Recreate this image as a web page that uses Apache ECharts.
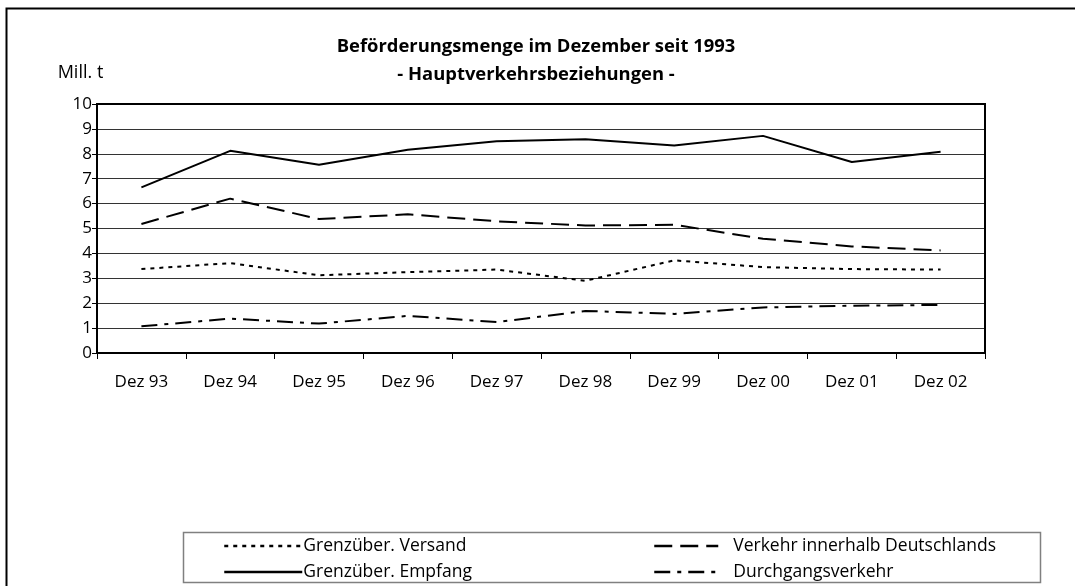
<!DOCTYPE html>
<html>
<head>
<meta charset="utf-8">
<script src="https://cdn.jsdelivr.net/npm/echarts@6/dist/echarts.min.js"></script>
<style>
  html, body { margin: 0; padding: 0; background: #fff; }
  #main { width: 1075px; height: 586px; }
</style>
</head>
<body>
<div id="main"></div>
<script>
var categories = ['Dez 93', 'Dez 94', 'Dez 95', 'Dez 96', 'Dez 97', 'Dez 98', 'Dez 99', 'Dez 00', 'Dez 01', 'Dez 02'];

var versand   = [3.37, 3.61, 3.12, 3.25, 3.35, 2.90, 3.72, 3.45, 3.37, 3.35];
var empfang   = [6.65, 8.12, 7.56, 8.16, 8.50, 8.58, 8.33, 8.72, 7.67, 8.08];
var innerhalb = [5.18, 6.20, 5.38, 5.57, 5.29, 5.12, 5.15, 4.59, 4.28, 4.12];
var durchgang = [1.07, 1.38, 1.18, 1.49, 1.24, 1.69, 1.57, 1.83, 1.90, 1.93];

var font = 'Open Sans';

function line(name, data, dash) {
  return {
    name: name,
    type: 'line',
    data: data,
    symbol: 'none',
    color: '#000',
    animation: false,
    lineStyle: { color: '#000', width: 2, type: dash },
    z: 5
  };
}

var legendBase = {
  orient: 'vertical',
  top: 537,
  padding: 0,
  itemHeight: 14,
  itemGap: 8,
  itemStyle: { color: 'rgba(0,0,0,0)', borderWidth: 0 },
  lineStyle: { width: 2.5, color: '#000' },
  textStyle: { fontFamily: font, fontSize: 17.5, color: '#000' }
};

var myChart = echarts.init(document.getElementById('main'));

var option = {
  backgroundColor: '#fff',
  animation: false,
  title: {
    text: 'Beförderungsmenge im Dezember seit 1993\n- Hauptverkehrsbeziehungen -',
    left: 536,
    textAlign: 'center',
    top: 33,
    padding: 0,
    textStyle: { fontFamily: font, fontWeight: 'bold', fontSize: 18.4, lineHeight: 28, color: '#000' }
  },
  legend: [
    Object.assign({}, legendBase, {
      left: 223,
      itemWidth: 78,
      data: ['Grenzüber. Versand', 'Grenzüber. Empfang'],
      textStyle: Object.assign({}, legendBase.textStyle, { padding: [0, 0, 0, -4] })
    }),
    Object.assign({}, legendBase, {
      left: 653,
      itemWidth: 64,
      data: ['Verkehr innerhalb Deutschlands', 'Durchgangsverkehr'],
      textStyle: Object.assign({}, legendBase.textStyle, { padding: [0, 0, 0, 10] })
    })
  ],
  grid: { left: 97, right: 90, top: 104, bottom: 233, containLabel: false },
  xAxis: {
    type: 'category',
    data: categories,
    boundaryGap: true,
    axisLine: { lineStyle: { color: '#000', width: 2 } },
    axisTick: { show: true, length: 6, lineStyle: { color: '#000', width: 1 } },
    axisLabel: { fontFamily: font, fontSize: 17, color: '#000', margin: 21 }
  },
  yAxis: {
    type: 'value',
    name: 'Mill. t',
    nameLocation: 'end',
    nameGap: 22,
    nameTextStyle: { fontFamily: font, fontSize: 18, color: '#000', align: 'center', padding: [0, 33, 0, 0] },
    min: 0,
    max: 10,
    interval: 1,
    axisLine: { show: true, lineStyle: { color: '#000', width: 2 } },
    axisTick: { show: true, length: 5, lineStyle: { color: '#000' } },
    axisLabel: { fontFamily: font, fontSize: 17, color: '#000', margin: 5 },
    splitLine: { lineStyle: { color: '#333', width: 1 } }
  },
  graphic: [
    {
      type: 'rect',
      shape: { x: 97, y: 104, width: 888, height: 249 },
      style: { fill: 'none', stroke: '#000', lineWidth: 2 },
      z: 10, silent: true
    },
    {
      type: 'rect',
      shape: { x: 6.5, y: 8.5, width: 1100, height: 620 },
      style: { fill: 'none', stroke: '#000', lineWidth: 2 },
      z: 10, silent: true
    },
    {
      type: 'rect',
      shape: { x: 183.5, y: 532.5, width: 857, height: 50 },
      style: { fill: 'none', stroke: '#808080', lineWidth: 1.5 },
      z: 10, silent: true
    }
  ],
  series: [
    line('Grenzüber. Versand', versand, [4, 5]),
    line('Grenzüber. Empfang', empfang, 'solid'),
    line('Verkehr innerhalb Deutschlands', innerhalb, [18, 8]),
    line('Durchgangsverkehr', durchgang, [16, 7, 4, 7])
  ]
};

myChart.setOption(option);
</script>
</body>
</html>
